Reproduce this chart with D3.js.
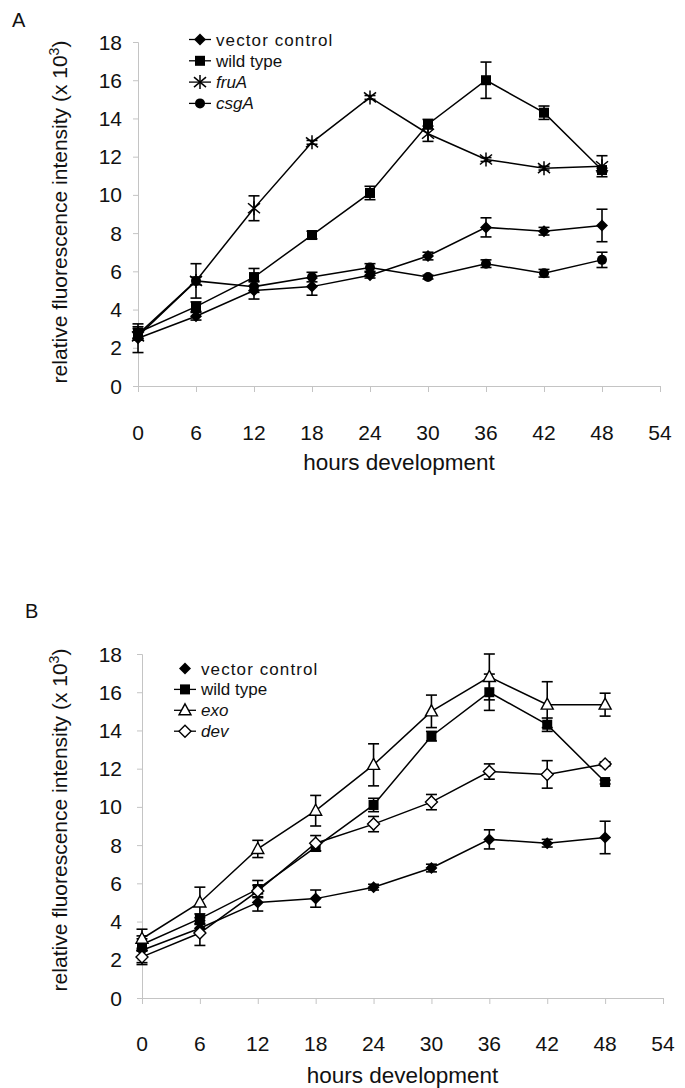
<!DOCTYPE html>
<html><head><meta charset="utf-8">
<script src="https://cdn.jsdelivr.net/npm/d3@7"></script>
<style>
html,body{margin:0;padding:0;background:#fff;}
svg{display:block;font-family:"Liberation Sans",Arial,sans-serif;}
</style></head>
<body>
<svg id="chart" width="685" height="1088"></svg>
<script>
// ---------- data ----------
const hours = [0, 6, 12, 18, 24, 30, 36, 42, 48];
const xTicks = [0, 6, 12, 18, 24, 30, 36, 42, 48, 54];
const yTicks = [0, 2, 4, 6, 8, 10, 12, 14, 16, 18];

const vectorControl = [2.5, 3.65, 5.0, 5.2, 5.8, 6.8, 8.3, 8.1, 8.4];
const vectorControlErr = [0.75, 0.2, 0.45, 0.45, 0.15, 0.2, 0.5, 0.2, 0.85];
const wildType = [2.8, 4.15, 5.7, 7.9, 10.1, 13.7, 16.0, 14.3, 11.3];
const wildTypeErr = [0.3, 0.25, 0.45, 0.2, 0.35, 0.25, 0.95, 0.35, 0.1];
const fruA = [2.6, 5.5, 9.3, 12.75, 15.1, 13.2, 11.85, 11.4, 11.5];
const fruAErr = [0.2, 0.9, 0.65, 0.1, 0.1, 0.4, 0.1, 0.1, 0.55];
const csgA = [2.7, 5.5, 5.2, 5.7, 6.2, 5.7, 6.4, 5.9, 6.6];
const csgAErr = [0.3, 0.2, 0.3, 0.25, 0.2, 0.1, 0.2, 0.2, 0.4];
const exo = [3.1, 5.0, 7.8, 9.8, 12.2, 15.0, 16.8, 15.35, 15.35];
const exoErr = [0.5, 0.8, 0.45, 0.8, 1.1, 0.85, 1.2, 1.2, 0.6];
const dev = [2.15, 3.4, 5.6, 8.1, 9.1, 10.25, 11.85, 11.7, 12.25];
const devErr = [0.3, 0.65, 0.3, 0.4, 0.4, 0.4, 0.4, 0.72, 0.1];

const legendA = ["vector control", "wild type", "fruA", "csgA"];
const legendB = ["vector control", "wild type", "exo", "dev"];

// ---------- drawing ----------
const svg = d3.select("#chart");

function marker(g, type, x, y) {
  if (type === "diamond") {
    g.append("path").attr("d", `M${x},${y-6}L${x+6},${y}L${x},${y+6}L${x-6},${y}Z`)
      .attr("fill", "#000");
  } else if (type === "square") {
    g.append("rect").attr("x", x-5).attr("y", y-5).attr("width", 10).attr("height", 10).attr("fill", "#000");
  } else if (type === "circle") {
    g.append("circle").attr("cx", x).attr("cy", y).attr("r", 5).attr("fill", "#000");
  } else if (type === "star") {
    const s = g.append("g").attr("stroke", "#000").attr("stroke-width", 1.5);
    s.append("line").attr("x1", x).attr("x2", x).attr("y1", y-7).attr("y2", y+7);
    s.append("line").attr("x1", x-6).attr("x2", x+6).attr("y1", y-5).attr("y2", y+5);
    s.append("line").attr("x1", x-6).attr("x2", x+6).attr("y1", y+5).attr("y2", y-5);
  } else if (type === "triangle") {
    g.append("path").attr("d", `M${x},${y-6.5}L${x+6},${y+4.5}L${x-6},${y+4.5}Z`)
      .attr("fill", "#fff").attr("stroke", "#000").attr("stroke-width", 1.4);
  } else if (type === "odiamond") {
    g.append("path").attr("d", `M${x},${y-6}L${x+6},${y}L${x},${y+6}L${x-6},${y}Z`)
      .attr("fill", "#fff").attr("stroke", "#000").attr("stroke-width", 1.4);
  }
}

function panel(cfg) {
  const x = d3.scaleLinear().domain([0, 54]).range([cfg.x0, cfg.x1]);
  const y = d3.scaleLinear().domain([0, 18]).range([cfg.y0, cfg.y1]);
  const g = svg.append("g");

  // axes
  const yAxis = g.append("g").attr("transform", `translate(${cfg.x0},0)`)
    .call(d3.axisLeft(y).tickValues(yTicks).tickSize(5).tickFormat(""));
  const xAxis = g.append("g").attr("transform", `translate(0,${cfg.y0})`)
    .call(d3.axisBottom(x).tickValues(xTicks).tickSize(6).tickFormat(""));
  [yAxis, xAxis].forEach(a => {
    a.select(".domain").attr("stroke", "#c4c4c4").attr("stroke-width", 1);
    a.selectAll(".tick line").attr("stroke", "#c4c4c4").attr("stroke-width", 1);
  });

  // tick labels
  g.selectAll(".ylab").data(yTicks).join("text")
    .attr("x", cfg.ylabX).attr("y", d => y(d) + 7.5)
    .attr("text-anchor", "end").attr("font-size", 21).attr("fill", "#111")
    .text(d => d);
  g.selectAll(".xlab").data(xTicks).join("text")
    .attr("x", d => x(d)).attr("y", cfg.y0 + cfg.xlabDy)
    .attr("text-anchor", "middle").attr("font-size", 21).attr("fill", "#111")
    .text(d => d);

  // titles
  g.append("text").attr("x", (cfg.x0 + cfg.x1) / 2).attr("y", cfg.y0 + cfg.xTitleDy)
    .attr("text-anchor", "middle").attr("font-size", 22.5).attr("fill", "#111")
    .text("hours development");
  const yt = g.append("text")
    .attr("transform", `translate(${cfg.yTitleX},${cfg.yTitleY}) rotate(-90)`)
    .attr("text-anchor", "middle").attr("font-size", 21).attr("fill", "#111");
  yt.append("tspan").text("relative fluorescence intensity (x 10");
  yt.append("tspan").attr("font-size", 14).attr("dy", -8).text("3");
  yt.append("tspan").attr("dy", 8).text(")");

  g.append("text").attr("x", cfg.letterX).attr("y", cfg.letterY)
    .attr("font-size", 20).attr("fill", "#111").text(cfg.letter);

  const line = d3.line().x((d, i) => x(hours[i])).y(d => y(d));

  // error bars
  cfg.series.forEach(s => {
    const eg = g.append("g").attr("stroke", "#000").attr("stroke-width", 1.6);
    s.values.forEach((v, i) => {
      const e = s.err[i];
      const cx = x(hours[i]);
      eg.append("line").attr("x1", cx).attr("x2", cx).attr("y1", y(v + e)).attr("y2", y(v - e));
      eg.append("line").attr("x1", cx - 5.5).attr("x2", cx + 5.5).attr("y1", y(v + e)).attr("y2", y(v + e));
      eg.append("line").attr("x1", cx - 5.5).attr("x2", cx + 5.5).attr("y1", y(v - e)).attr("y2", y(v - e));
    });
  });
  // lines
  cfg.series.forEach(s => {
    g.append("path").datum(s.values).attr("d", line)
      .attr("fill", "none").attr("stroke", "#000").attr("stroke-width", 1.5);
  });
  // markers
  cfg.series.forEach(s => {
    const mg = g.append("g");
    s.values.forEach((v, i) => marker(mg, s.marker, x(hours[i]), y(v)));
  });

  // legend
  const lg = g.append("g");
  cfg.series.forEach((s, i) => {
    const ly = cfg.legY + i * cfg.legDy;
    if (s.legLine) {
      lg.append("line").attr("x1", cfg.legX - 11).attr("x2", cfg.legX + 11)
        .attr("y1", ly).attr("y2", ly).attr("stroke", "#000").attr("stroke-width", 1.3);
    }
    marker(lg, s.marker, cfg.legX, ly);
    lg.append("text").attr("x", cfg.legX + 16).attr("y", ly + 6)
      .attr("font-size", 17).attr("fill", "#111")
      .attr("font-style", s.italic ? "italic" : "normal")
      .attr("letter-spacing", s.spaced ? 1.1 : 0)
      .text(s.name);
  });
}

panel({
  x0: 138, x1: 660, y0: 386, y1: 42,
  ylabX: 122, xlabDy: 54, xTitleDy: 84,
  yTitleX: 67, yTitleY: 212,
  letter: "A", letterX: 12, letterY: 27,
  legX: 200, legY: 39.5, legDy: 21.3,
  series: [
    {name: legendA[0], values: vectorControl, err: vectorControlErr, marker: "diamond", legLine: true, spaced: true},
    {name: legendA[1], values: wildType, err: wildTypeErr, marker: "square", legLine: true},
    {name: legendA[2], values: fruA, err: fruAErr, marker: "star", legLine: true, italic: true},
    {name: legendA[3], values: csgA, err: csgAErr, marker: "circle", legLine: true, italic: true}
  ]
});

panel({
  x0: 142, x1: 663, y0: 998, y1: 654,
  ylabX: 122, xlabDy: 53, xTitleDy: 85,
  yTitleX: 67, yTitleY: 820,
  letter: "B", letterX: 25, letterY: 618,
  legX: 185, legY: 668.5, legDy: 20.9,
  series: [
    {name: legendB[0], values: vectorControl, err: vectorControlErr, marker: "diamond", legLine: false, spaced: true},
    {name: legendB[1], values: wildType, err: wildTypeErr, marker: "square", legLine: true},
    {name: legendB[2], values: exo, err: exoErr, marker: "triangle", legLine: true, italic: true},
    {name: legendB[3], values: dev, err: devErr, marker: "odiamond", legLine: true, italic: true}
  ]
});
</script>
</body></html>
